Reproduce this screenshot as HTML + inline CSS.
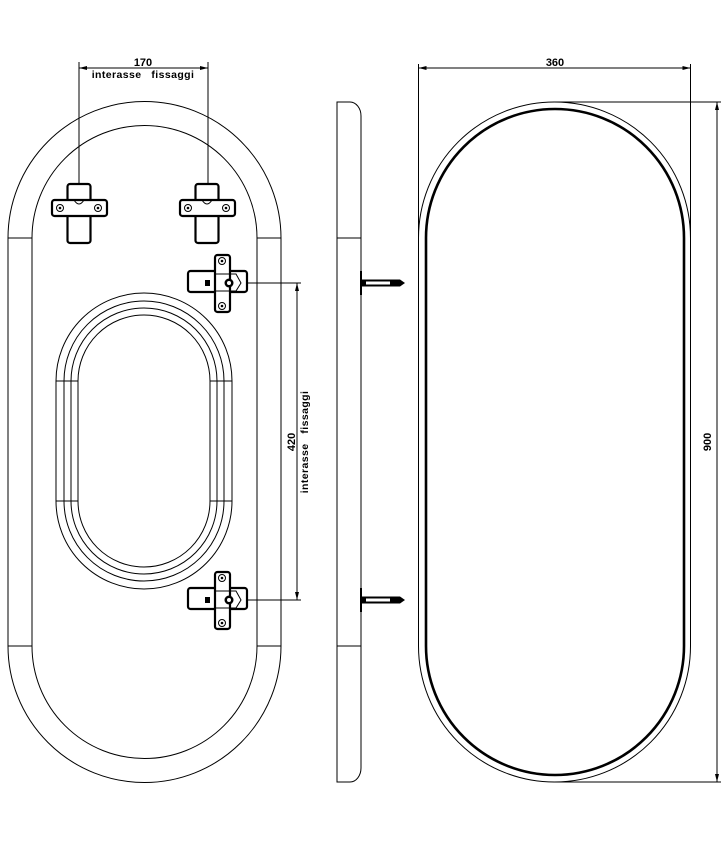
<!DOCTYPE html>
<html><head><meta charset="utf-8"><style>html,body{margin:0;padding:0;background:#fff}svg{display:block}text{font-family:"Liberation Sans",sans-serif;font-weight:bold;fill:#000}</style></head><body>
<svg width="728" height="841" viewBox="0 0 728 841" xmlns="http://www.w3.org/2000/svg">
<defs>
<g id="vbr">
<rect x="-11.5" y="0" width="23" height="59" rx="2.5" fill="#fff" stroke="#000" stroke-width="2.2"/>
<rect x="-27" y="16" width="55" height="16" rx="2.5" fill="#fff" stroke="#000" stroke-width="2.2"/>
<path d="M-11.5 16 L-5 16 Q0 24 5 16 L11.5 16" fill="none" stroke="#000" stroke-width="1"/>
<line x1="-11.5" y1="32" x2="11.5" y2="32" stroke="#000" stroke-width="1"/>
<circle cx="-19" cy="24" r="3.5" fill="#fff" stroke="#000" stroke-width="1"/><circle cx="-19" cy="24" r="1.3" fill="#000"/>
<circle cx="19" cy="24" r="3.5" fill="#fff" stroke="#000" stroke-width="1"/><circle cx="19" cy="24" r="1.3" fill="#000"/>
</g>
<g id="hbr">
<rect x="188" y="-12" width="59" height="21" rx="2.5" fill="#fff" stroke="#000" stroke-width="2.2"/>
<rect x="215" y="-28" width="15" height="57" rx="2.5" fill="#fff" stroke="#000" stroke-width="2.2"/>
<path d="M215 -9 L236 -9 L241 0 L236 8 L215 8" fill="none" stroke="#000" stroke-width="1"/>
<circle cx="222" cy="-22" r="3.5" fill="#fff" stroke="#000" stroke-width="1"/><circle cx="222" cy="-22" r="1.3" fill="#000"/>
<circle cx="222" cy="23" r="3.5" fill="#fff" stroke="#000" stroke-width="1"/><circle cx="222" cy="23" r="1.3" fill="#000"/>
<circle cx="229" cy="0" r="4.5" fill="#000"/><circle cx="229" cy="0" r="2" fill="#fff"/>
<rect x="205" y="-3" width="5" height="6" fill="#000"/>
</g>
<g id="screw">
<line x1="361" y1="-12" x2="361" y2="12" stroke="#000" stroke-width="2"/>
<rect x="362" y="-3.5" width="38" height="7" fill="#000"/>
<path d="M400 -3.5 L405 0 L400 3.5Z" fill="#000"/>
<rect x="366" y="-1.5" width="24" height="3" fill="#fff"/>
</g>
</defs>
<g fill="none" stroke="#000" stroke-width="1">
<path d="M8 238 A136.5 136.5 0 0 1 281 238 L281 646 A136.5 136.5 0 0 1 8 646 Z"/>
<path d="M32 238 A112.5 112.5 0 0 1 257 238 L257 646 A112.5 112.5 0 0 1 32 646 Z"/>
<line x1="8" y1="238" x2="32" y2="238"/><line x1="257" y1="238" x2="281" y2="238"/>
<line x1="8" y1="646" x2="32" y2="646"/><line x1="257" y1="646" x2="281" y2="646"/>
<path d="M56 381 A88 88 0 0 1 232 381 L232 501 A88 88 0 0 1 56 501 Z"/>
<path d="M64 381 A80 80 0 0 1 224 381 L224 501 A80 80 0 0 1 64 501 Z"/>
<path d="M71 381 A73 73 0 0 1 217 381 L217 501 A73 73 0 0 1 71 501 Z"/>
<path d="M78 381 A66 66 0 0 1 210 381 L210 501 A66 66 0 0 1 78 501 Z"/>
<line x1="56" y1="381" x2="78" y2="381"/><line x1="210" y1="381" x2="232" y2="381"/>
<line x1="56" y1="501" x2="78" y2="501"/><line x1="210" y1="501" x2="232" y2="501"/>
<line x1="79" y1="62" x2="79" y2="200"/><line x1="208" y1="62" x2="208" y2="200"/>
<line x1="79" y1="68" x2="208" y2="68"/>
<line x1="229" y1="283" x2="301" y2="283"/><line x1="229" y1="600" x2="301" y2="600"/>
<line x1="297" y1="283" x2="297" y2="600"/>
<path d="M337 102 L350 102 A11 14 0 0 1 361 116 L361 768 A11 14 0 0 1 350 782 L337 782 Z"/>
<line x1="337" y1="238" x2="361" y2="238"/><line x1="337" y1="646" x2="361" y2="646"/>
<path d="M418.5 238 A136 136 0 0 1 690.5 238 L690.5 646 A136 136 0 0 1 418.5 646 Z"/>
<path d="M426 238 A129 129 0 0 1 684 238 L684 646 A129 129 0 0 1 426 646 Z" stroke-width="2.6"/>
<line x1="418.5" y1="64" x2="418.5" y2="238"/><line x1="690.5" y1="64" x2="690.5" y2="238"/>
<line x1="418.5" y1="68" x2="690.5" y2="68"/>
<line x1="555" y1="102" x2="721" y2="102"/><line x1="555" y1="782" x2="721" y2="782"/>
<line x1="717" y1="102" x2="717" y2="782"/>
</g>
<g fill="#000">
<path d="M79 68 l8 -2 v4z"/><path d="M208 68 l-8 -2 v4z"/>
<path d="M297 283 l-2 8 h4z"/><path d="M297 600 l-2 -8 h4z"/>
<path d="M418.5 68 l8 -2 v4z"/><path d="M690.5 68 l-8 -2 v4z"/>
<path d="M717 102 l-2 8 h4z"/><path d="M717 782 l-2 -8 h4z"/>
</g>
<use href="#vbr" x="79" y="184"/>
<use href="#vbr" x="207" y="184"/>
<use href="#hbr" y="283"/>
<use href="#hbr" y="600"/>
<use href="#screw" y="283"/>
<use href="#screw" y="600"/>
<text x="143" y="66" font-size="11" text-anchor="middle">170</text>
<text x="143" y="78" font-size="10.5" text-anchor="middle" letter-spacing="0.4">interasse&#160;&#160;&#160;fissaggi</text>
<text x="555" y="66" font-size="11" text-anchor="middle">360</text>
<text transform="translate(295,442) rotate(-90)" font-size="11" text-anchor="middle">420</text>
<text transform="translate(308,442) rotate(-90)" font-size="10.5" text-anchor="middle" letter-spacing="0.4">interasse&#160;&#160;&#160;fissaggi</text>
<text transform="translate(711,442) rotate(-90)" font-size="11" text-anchor="middle">900</text>
</svg>
</body></html>
